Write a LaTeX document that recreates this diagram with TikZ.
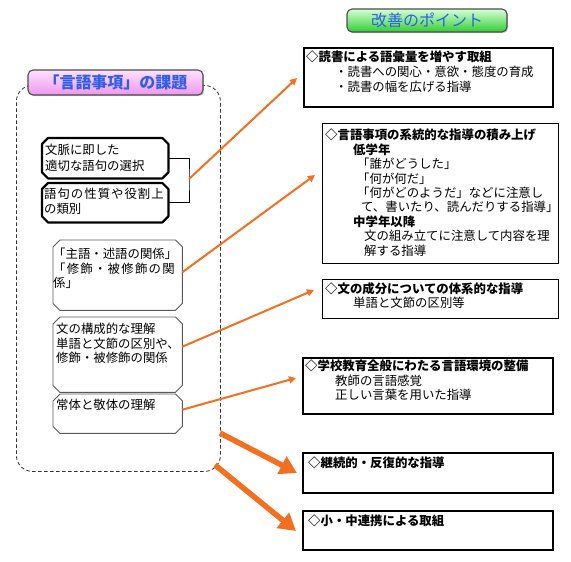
\documentclass[tikz,border=0pt]{standalone}
\usepackage{fontspec}
\setmainfont{Noto Sans CJK JP}
\usetikzlibrary{arrows.meta,shadows}
\definecolor{org}{RGB}{242,112,32}
\definecolor{ttlblue}{RGB}{45,95,235}
\newcommand{\octobox}[3]{% name, chamfer, style
  \draw[#3] ([xshift=#2]#1.north west) -- ([xshift=-#2]#1.north east) -- ([yshift=-#2]#1.north east)
    -- ([yshift=#2]#1.south east) -- ([xshift=-#2]#1.south east) -- ([xshift=#2]#1.south west)
    -- ([yshift=#2]#1.south west) -- ([yshift=-#2]#1.north west) -- cycle;}
\begin{document}
\begin{tikzpicture}[x=1pt,y=-1pt,
  txt/.style={font=\fontsize{12.4}{14.4}\selectfont, inner sep=0pt, align=left, anchor=north west},
  bigbox/.style={draw=black, line width=2.4pt, anchor=north west, inner sep=0pt},
  thinbox/.style={draw=black, line width=0.9pt, anchor=north west, inner sep=0pt},
  holder/.style={rectangle, anchor=north west, inner sep=0pt},
  chamthick/.style={draw=black, line width=2.2pt, line join=round},
  chamthin/.style={draw=black!65, line width=0.9pt},
  thinarrow/.style={draw=org, line width=2pt, -{Triangle[length=7pt,width=7pt]}},
  thickarrow/.style={draw=org, line width=5.5pt, -{Triangle[length=17pt,width=19pt]}},
  ttl/.style={rounded corners=5pt, draw=black!70, line width=1.1pt, inner sep=0pt,
    font=\fontsize{16}{18}\selectfont\bfseries, text=ttlblue,
    drop shadow={shadow xshift=1.2pt, shadow yshift=-1.2pt, opacity=0.35}},
]
\useasboundingbox (0,0) rectangle (571,562);
\fill[white] (0,0) rectangle (571,562);

% left container
\node[draw=black!80, dashed, dash pattern=on 3.5pt off 2.5pt, line width=0.8pt, rounded corners=16pt,
  minimum width=204pt, minimum height=386pt, anchor=north west, inner sep=0pt] (cont) at (16,85) {};

% titles
\node[ttl, top color={rgb,255:red,255;green,225;blue,255}, bottom color={rgb,255:red,238;green,150;blue,238},
  minimum width=175pt, minimum height=25pt] (ltitle) at (115.5,82.5) {「言語事項」の課題};
\node[ttl, top color={rgb,255:red,215;green,255;blue,215}, bottom color={rgb,255:red,50;green,205;blue,50},
  minimum width=160pt, minimum height=23pt] (rtitle) at (427,20.5) {\mdseries 改善のポイント};

% left boxes
\node[holder, minimum width=126pt, minimum height=40pt] (ba) at (42,138) {};
\octobox{ba}{6pt}{chamthick}
\node[txt, font=\fontsize{12.4}{16}\selectfont] (bat) at (45,144) {文脈に即した\\適切な語句の選択};
\node[holder, minimum width=126pt, minimum height=39pt] (bb) at (42,183) {};
\octobox{bb}{6pt}{chamthick}
\node[txt, font=\fontsize{12.4}{15}\selectfont] (bbt) at (44,188) {\addfontfeature{LetterSpace=8}語句の性質や役割上\\の類別};
\node[holder, minimum width=129pt, minimum height=70pt] (bc) at (53,240) {};
\octobox{bc}{7pt}{chamthin}
\node[txt] (bct) at (53,248) {「主語・述語の関係」\\{\addfontfeature{LetterSpace=10}「修飾・被修飾の関}\\係」};
\node[holder, minimum width=129pt, minimum height=75pt] (bd) at (53,317) {};
\octobox{bd}{7pt}{chamthin}
\node[txt] (bdt) at (56,323) {文の構成的な理解\\単語と文節の区別や、\\修飾・被修飾の関係};
\node[holder, minimum width=129pt, minimum height=39pt] (be) at (53,394) {};
\octobox{be}{7pt}{chamthin}
\node[txt] (bet) at (56,399) {常体と敬体の理解};

% bracket
\coordinate (brk) at (189,179);
\draw[black, line width=0.9pt] (ba.east) -| (brk) |- (bb.east);

% right boxes
\node[bigbox, minimum width=249pt, minimum height=59pt] (r1) at (303,47) {};
\node[txt, font=\fontsize{12.4}{15}\selectfont] (r1t) at (306,51) {\textbf{◇読書による語彙量を増やす取組}\\\hspace*{29pt}・読書への関心・意欲・態度の育成\\\hspace*{29pt}・読書の幅を広げる指導};

\node[thinbox, minimum width=236pt, minimum height=140pt] (r2) at (322,123) {};
\node[txt] (r2t) at (325,129) {\textbf{◇言語事項の系統的な指導の積み上げ}\\
\hspace*{28pt}\textbf{低学年}\\
\hspace*{32pt}「誰がどうした」\\
\hspace*{32pt}「何が何だ」\\
\hspace*{32pt}「何がどのようだ」などに注意し\\
\hspace*{36pt}て、書いたり、読んだりする指導」\\
\hspace*{28pt}\textbf{中学年以降}\\
\hspace*{39pt}文の組み立てに注意して内容を理\\
\hspace*{39pt}解する指導};

\node[thinbox, minimum width=236pt, minimum height=39pt] (r3) at (322,279) {};
\node[txt] (r3t) at (325,282) {\textbf{◇文の成分についての体系的な指導}\\\hspace*{28pt}単語と文節の区別等};

\node[bigbox, minimum width=250pt, minimum height=56pt] (r4) at (302,357) {};
\node[txt] (r4t) at (305,360) {\textbf{◇学校教育全般にわたる言語環境の整備}\\\hspace*{30pt}教師の言語感覚\\\hspace*{30pt}正しい言葉を用いた指導};

\node[bigbox, minimum width=250pt, minimum height=40pt] (r5) at (302,452) {};
\node[txt] (r5t) at (308,457) {\textbf{◇継続的・反復的な指導}};

\node[bigbox, minimum width=250pt, minimum height=39pt] (r6) at (302,510) {};
\node[txt] (r6t) at (308,515) {\textbf{◇小・中連携による取組}};

% arrow end points
\coordinate (e1) at (297,78);
\coordinate (e2) at (315,175);
\coordinate (e3) at (314,290);
\coordinate (e4) at (296,378);
\coordinate (e5) at (297,473);
\coordinate (e6) at (296,531);
\coordinate (s5) at (220,433);
\coordinate (s6) at (215,465);

\draw[thinarrow] (brk) -- (e1);
\draw[thinarrow] ([yshift=3pt]bc.east) -- (e2);
\draw[thinarrow] ([yshift=8pt]bd.east) -- (e3);
\draw[thinarrow] ([yshift=4pt]be.east) -- (e4);
\draw[thickarrow] (s5) -- (e5);
\draw[thickarrow] (s6) -- (e6);
\end{tikzpicture}
\end{document}
